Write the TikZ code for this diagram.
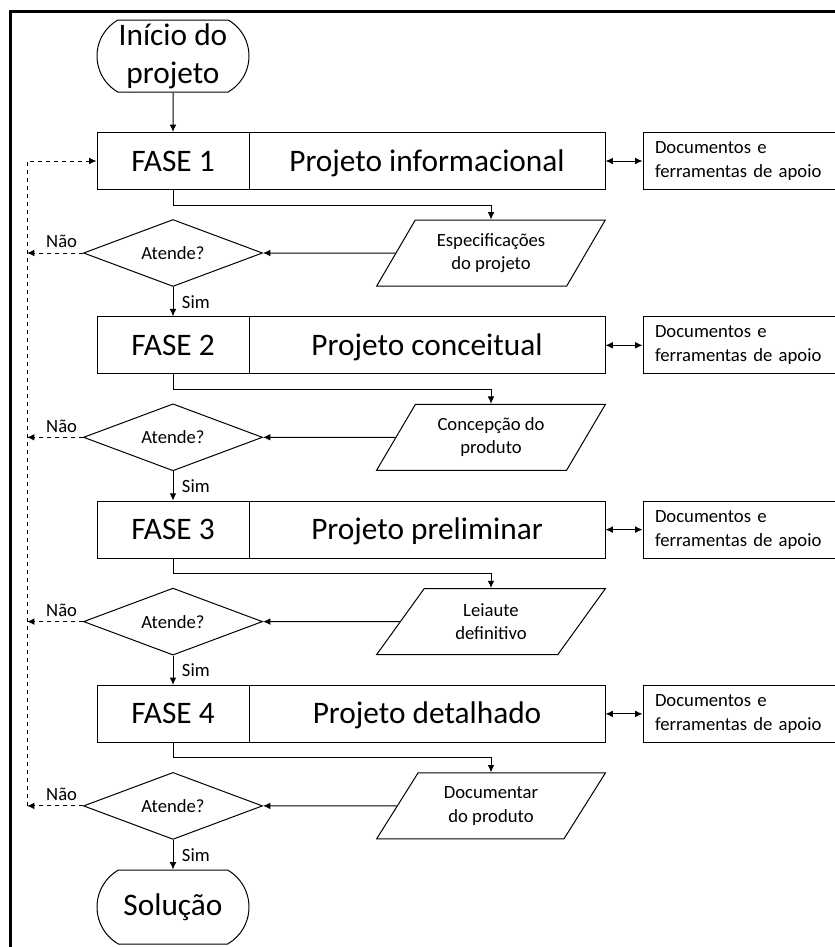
\documentclass[tikz,border=0pt]{standalone}
\usepackage{fontspec}
\setmainfont{Carlito}
\usetikzlibrary{shapes.geometric,shapes.misc,arrows.meta}

\begin{document}
\begin{tikzpicture}[x=0.75pt, y=-0.75pt, >={Latex[length=5.5pt,width=5pt]}, line width=0.75pt,
    fasebox/.style={draw, minimum width=114pt, minimum height=42.75pt, inner sep=0pt, text height=20pt, text depth=5pt, font=\fontsize{23.5}{28}\selectfont},
    projbox/.style={fasebox, minimum width=267pt},
    docbox/.style={draw, minimum width=147.75pt, minimum height=42.75pt, text width=129.75pt, inner xsep=9pt, inner ysep=0pt, align=left, font=\fontsize{14}{18}\selectfont},
    saida/.style={draw, trapezium, trapezium left angle=55, trapezium right angle=125, trapezium stretches=true, minimum width=171.75pt, minimum height=49.5pt, inner sep=0pt, align=center, font=\fontsize{14}{17.5}\selectfont},
    decisao/.style={draw, diamond, aspect=2.7, minimum width=134.25pt, minimum height=50.25pt, inner sep=0pt, font=\fontsize{14}{17}\selectfont},
    terminal/.style={draw, rounded rectangle, rounded rectangle arc length=120, minimum width=114pt, minimum height=54pt, inner sep=0pt, align=center, font=\fontsize{23.5}{28.5}\selectfont},
    rotulo/.style={font=\fontsize{14}{17}\selectfont}]
            \useasboundingbox (0,0) rectangle (835,947);
            % ==== FRAME ====
            \draw[line width=2.25pt] (10,960) -- (10,11) -- (850,11);

            % ==== START ====
            \node[terminal] (inicio) at (173,56) {Início do\\projeto};
            \coordinate (ret) at (27,161);

            % ==== PHASES ====
            \foreach \i/\titulo/\texto in {1/Projeto informacional/{Especificações\\do projeto},
                2/Projeto conceitual/{Concepção do\\produto},
                3/Projeto preliminar/{Leiaute\\definitivo},
                4/Projeto detalhado/{Documentar\\do produto}}{
                \pgfmathsetmacro{\yy}{161+184.3*(\i-1)}
                \node[fasebox] (fase\i) at (173,\yy) {FASE \i};
                \node[projbox] (proj\i) at (427,\yy) {\titulo};
                \node[docbox] (doc\i) at (741.5,\yy) {Documentos e\\ferramentas de apoio};
                \node[saida] (saida\i) at (491,{\yy+92}) {\texto};
                \node[decisao] (atende\i) at (173,{\yy+92}) {Atende?};
                \draw[<->] (proj\i) -- (doc\i);
                \draw[->] (fase\i.south) -- ++(0,15) -| (saida\i.north);
                \draw[->] (saida\i) -- (atende\i);
                \draw[->, dashed] (atende\i.west) -- node[rotulo, above, xshift=5pt] {Não} (atende\i.west -| ret);
            }

            % ==== END ====
            \node[terminal, minimum height=55.5pt] (fim) at (173,907) {Solução};
            \draw[->] (inicio) -- (fase1);
            \foreach \i/\prox in {1/fase2, 2/fase3, 3/fase4, 4/fim}
                \draw[->] (atende\i.south) -- node[rotulo, right, xshift=3pt] {Sim} (\prox.north);
            \draw[->, dashed] (atende4.west -| ret) -- (ret) -- (fase1.west);
\end{tikzpicture}
\end{document}
